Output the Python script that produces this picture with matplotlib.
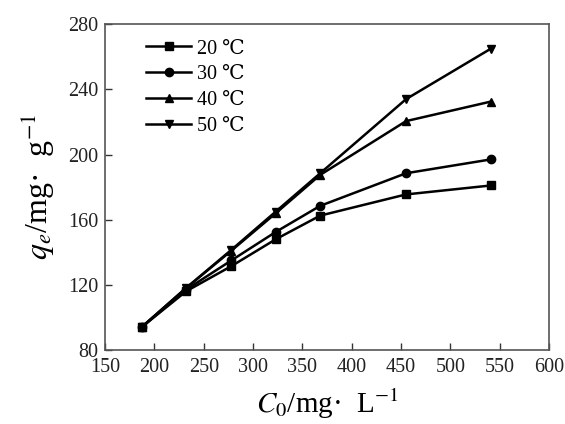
import matplotlib
matplotlib.use('Agg')
import matplotlib.pyplot as plt

plt.rcParams['font.family'] = ['Liberation Serif', 'DejaVu Serif']
plt.rcParams['mathtext.fontset'] = 'stix'

# initial concentration C0 (mg/L)
c0 = [187, 232, 278, 323, 368, 455, 541]

# equilibrium adsorption qe (mg/g) at each temperature
qe_20 = [94, 116, 131.5, 148, 162.5, 175.5, 181]
qe_30 = [94, 117, 135, 152.5, 168.5, 188.5, 197]
qe_40 = [94, 118, 141, 164, 187.5, 220.5, 232.5]
qe_50 = [94, 118, 141.5, 165, 188.5, 234, 265]

labels = ['20 ℃', '30 ℃', '40 ℃', '50 ℃']
markers = ['s', 'o', '^', 'v']

fig = plt.figure(figsize=(5.65, 4.24), dpi=100)
ax = fig.add_axes([0.186, 0.1745, 0.786, 0.7685])

for q, lab, m in zip([qe_20, qe_30, qe_40, qe_50], labels, markers):
    ax.plot(c0, q, color='black', linewidth=1.8, marker=m, markersize=6, label=lab)

ax.set_xlim(150, 600)
ax.set_ylim(80, 280)
ax.set_xticks(range(150, 601, 50))
ax.set_yticks(range(80, 281, 40))
ax.tick_params(direction='in', length=5, width=1, labelsize=14.5, colors='#333333',
               labelcolor='#222222')
ax.tick_params(axis='x', pad=6)
ax.tick_params(axis='y', pad=5)
for s in ax.spines.values():
    s.set_color('#555555')
    s.set_linewidth(1.2)

ax.set_xlabel('$C_0$/mg·  L$^{-1}$', fontsize=21, labelpad=7)
ax.set_ylabel('$q_e$/mg·  g$^{-1}$', fontsize=23, labelpad=8)

leg = ax.legend(loc='upper left', bbox_to_anchor=(0.075, 0.978), frameon=False,
                fontsize=14.5, handlelength=2.2, labelspacing=0.33, borderaxespad=0,
                handletextpad=0.3)

fig.savefig('out.png', dpi=100)
